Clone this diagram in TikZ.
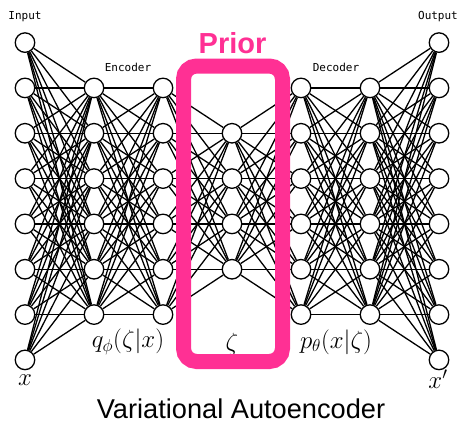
\documentclass[tikz,border=0pt]{standalone}
\usepackage{fontspec}
\newfontfamily\monolabel{DejaVu Sans Mono}
\newfontfamily\arialfont{Liberation Sans}
\definecolor{priorpink}{RGB}{255,48,148}
\begin{document}
\begin{tikzpicture}[x=1pt,y=-1pt,
  neuron/.style={circle, draw=black, line width=1.3pt, fill=white, minimum size=19.5pt, inner sep=0pt},
  link/.style={line width=1.3pt, black},
  tag/.style={font=\monolabel\fontsize{11}{11}\selectfont},
  mathtag/.style={font=\fontsize{24}{24}\selectfont}]
\useasboundingbox (0,0) rectangle (459,423);

% neurons: column index / first row / last row
\foreach \c/\lo/\hi in {0/0/7,1/1/6,2/1/6,3/2/5,4/1/6,5/1/6,6/0/7}
  \foreach \k in {\lo,...,\hi}
    \node[neuron] (n\c-\k) at ({25+69*\c},{42.6+45.33*\k}) {};

% fully connected layers
\foreach \a/\alo/\ahi/\b/\blo/\bhi in {0/0/7/1/1/6, 1/1/6/2/1/6, 2/1/6/3/2/5, 3/2/5/4/1/6, 4/1/6/5/1/6, 5/1/6/6/0/7}
  \foreach \i in {\alo,...,\ahi}
    \foreach \j in {\blo,...,\bhi}
      \draw[link] (n\a-\i) -- (n\b-\j);

% column titles
\node[tag] (lin) at (25,17) {Input};
\node[tag] (lout) at (438,17) {Output};
\node[tag] (lenc) at (128,67) {Encoder};
\node[tag] (ldec) at (336,67) {Decoder};

% math labels
\node[mathtag] (lx) at (25,380) {$x$};
\node[mathtag] (lq) at (128,342) {$q_\phi(\zeta|x)$};
\node[mathtag] (lz) at (232,344) {$\zeta$};
\node[mathtag] (lp) at (336,342) {$p_\theta(x|\zeta)$};
\node[mathtag] (lxp) at (438,379) {$x'$};

% prior box over the latent layer
\node[draw=priorpink, line width=15pt, rounded corners=13pt,
      minimum width=99pt, minimum height=295.5pt, inner sep=0pt] (prior) at (233,213.75) {};
\node[text=priorpink, font=\arialfont\bfseries\fontsize{29}{29}\selectfont, anchor=base] (lprior) at (232.5,53) {Prior};

% title
\node[font=\arialfont\fontsize{27.2}{28}\selectfont, anchor=base] (title) at (241,418) {Variational Autoencoder};
\end{tikzpicture}
\end{document}
